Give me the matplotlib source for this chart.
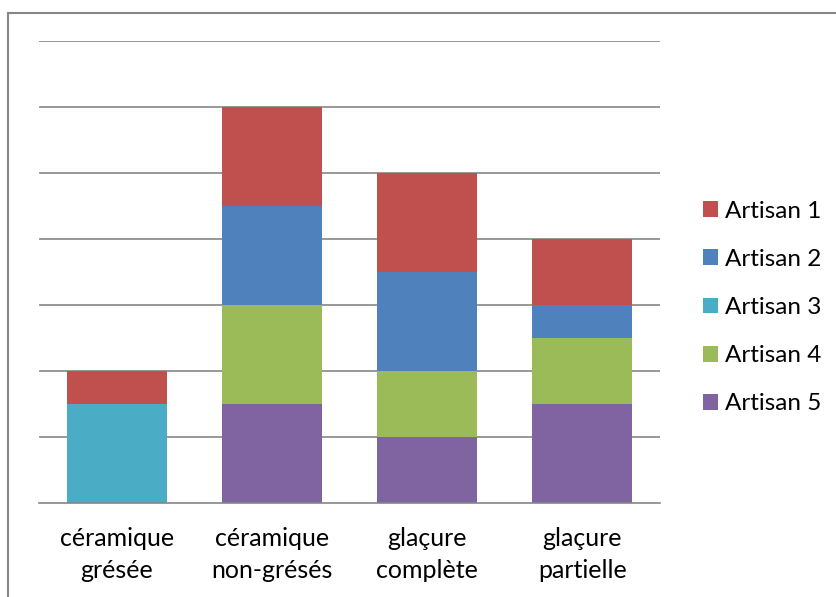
import matplotlib

matplotlib.use("Agg")
import matplotlib.pyplot as plt
from matplotlib.lines import Line2D
from matplotlib.patches import Patch
import numpy as np

plt.rcParams["font.family"] = ["Lato", "DejaVu Sans"]

categories = ["céramique\ngrésée", "céramique\nnon-grésés", "glaçure\ncomplète", "glaçure\npartielle"]
series_names = ["Artisan 1", "Artisan 2", "Artisan 3", "Artisan 4", "Artisan 5"]
artisan_1 = [1, 3, 3, 2]
artisan_2 = [0, 3, 3, 1]
artisan_3 = [3, 0, 0, 0]
artisan_4 = [0, 3, 2, 2]
artisan_5 = [0, 3, 2, 3]
series_values = [artisan_1, artisan_2, artisan_3, artisan_4, artisan_5]
colors = ["#C0504D", "#4F81BD", "#4BACC6", "#9BBB59", "#8064A2"]

W, H = 837, 597
fig = plt.figure(figsize=(W / 100, H / 100), dpi=100)
fig.patch.set_facecolor("white")

# outer chart border (only left and top visible in the crop)
fig.add_artist(Line2D([8.5 / W, 8.5 / W], [0, 1 - 12.5 / H], color="#868686", lw=1.5))
fig.add_artist(Line2D([8.5 / W, 1.0], [1 - 12.5 / H, 1 - 12.5 / H], color="#868686", lw=1.5))

ax = fig.add_axes([39 / W, 94 / H, 621 / W, 462 / H])
ax.set_xlim(-0.5, 3.5)
ax.set_ylim(0, 14)
for y in range(2, 15, 2):
    ax.axhline(y, color="#868686", lw=1.2, zorder=1)

x = np.arange(len(categories))
bottom = np.zeros(len(categories))
# stack from Artisan 5 at the bottom up to Artisan 1
for name, vals, col in reversed(list(zip(series_names, series_values, colors))):
    ax.bar(x, vals, width=0.645, bottom=bottom, color=col, zorder=2)
    bottom += np.array(vals)

for s in ["top", "right", "left"]:
    ax.spines[s].set_visible(False)
ax.spines["bottom"].set_color("#868686")
ax.spines["bottom"].set_linewidth(1.2)
ax.set_yticks([])
ax.set_xticks(x)
ax.set_xticklabels(categories, fontsize=18, linespacing=1.5, color="black")
ax.tick_params(axis="x", length=0, pad=17)

handles = [Patch(facecolor=c, edgecolor="none") for c in colors]
fig.legend(handles, series_names, loc="center left", bbox_to_anchor=(703 / W, 1 - 307.5 / H),
           frameon=False, fontsize=17.5, handlelength=0.62, handleheight=0.62,
           handletextpad=0.29, labelspacing=1.12, borderpad=0, borderaxespad=0)

fig.savefig("out.png", dpi=100, facecolor="white")
